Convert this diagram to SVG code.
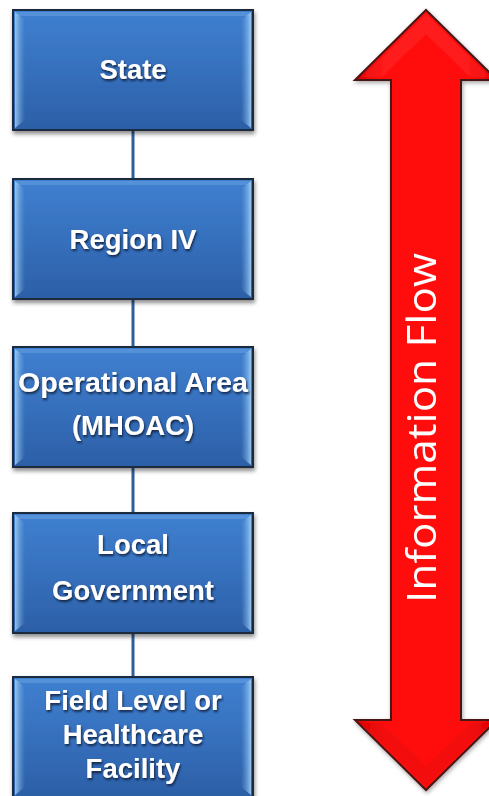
<svg xmlns="http://www.w3.org/2000/svg" width="489" height="796" viewBox="0 0 489 796">
  <defs>
    <linearGradient id="boxFill" x1="0" y1="0" x2="0" y2="1">
      <stop offset="0" stop-color="#3f80d0"/>
      <stop offset="0.5" stop-color="#3670bd"/>
      <stop offset="1" stop-color="#2c5fa6"/>
    </linearGradient>
    <linearGradient id="edgeL" x1="0" y1="0" x2="1" y2="0">
      <stop offset="0" stop-color="#9fcdf5" stop-opacity="0.9"/>
      <stop offset="1" stop-color="#6ea6e0" stop-opacity="0"/>
    </linearGradient>
    <linearGradient id="edgeR" x1="1" y1="0" x2="0" y2="0">
      <stop offset="0" stop-color="#9fcdf5" stop-opacity="0.9"/>
      <stop offset="1" stop-color="#6ea6e0" stop-opacity="0"/>
    </linearGradient>
    <linearGradient id="arrowFill" x1="0" y1="0" x2="1" y2="0">
      <stop offset="0" stop-color="#e00000"/>
      <stop offset="0.2" stop-color="#ff1010"/>
      <stop offset="0.8" stop-color="#ff1010"/>
      <stop offset="1" stop-color="#e00000"/>
    </linearGradient>
    <filter id="boxShadow" x="-10%" y="-10%" width="120%" height="125%">
      <feDropShadow dx="1" dy="3" stdDeviation="2" flood-color="#000" flood-opacity="0.45"/>
    </filter>
    <filter id="textShadow" x="-10%" y="-20%" width="120%" height="150%">
      <feDropShadow dx="1" dy="2" stdDeviation="1.2" flood-color="#0b1e3a" flood-opacity="0.9"/>
    </filter>
    <filter id="arrowShadow" x="-10%" y="-5%" width="120%" height="110%">
      <feDropShadow dx="1" dy="2" stdDeviation="2" flood-color="#000" flood-opacity="0.35"/>
    </filter>
    <g id="box">
      <rect x="0" y="0" width="240" height="120" fill="url(#boxFill)" stroke="#1c2a3c" stroke-width="2"/>
      <rect x="2" y="2" width="236" height="4" fill="#6aa3e2" opacity="0.5"/>
      <polygon points="2,2 12,10 12,110 2,118" fill="url(#edgeL)"/>
      <polygon points="238,2 228,10 228,110 238,118" fill="url(#edgeR)"/>
    </g>
  </defs>
  <style>
    .label { font-family: "Liberation Sans", Arial, sans-serif; font-weight: bold; font-size: 27.5px; fill: #ffffff; text-anchor: middle; filter: url(#textShadow); }
    .link { stroke: #2f5f9a; stroke-width: 3; fill: none; }
    .flow { font-family: "Open Sans", "Liberation Sans", sans-serif; font-size: 40px; fill: #ffffff; text-anchor: middle; }
  </style>
  <rect width="489" height="796" fill="#ffffff"/>

  <!-- connectors between the levels -->
  <g id="connectors">
    <line class="link" x1="133" y1="130" x2="133" y2="178"/>
    <line class="link" x1="133" y1="300" x2="133" y2="347"/>
    <line class="link" x1="133" y1="467" x2="133" y2="513"/>
    <line class="link" x1="133" y1="633" x2="133" y2="677"/>
  </g>

  <g id="node-state" filter="url(#boxShadow)">
    <use href="#box" x="13" y="10"/>
  </g>
  <text class="label" x="133" y="79">State</text>

  <g id="node-region" filter="url(#boxShadow)">
    <use href="#box" x="13" y="179"/>
  </g>
  <text class="label" x="133" y="249">Region IV</text>

  <g id="node-operational" filter="url(#boxShadow)">
    <use href="#box" x="13" y="347"/>
  </g>
  <text class="label" x="133" y="392" textLength="230" lengthAdjust="spacingAndGlyphs">Operational Area</text>
  <text class="label" x="133" y="435">(MHOAC)</text>

  <g id="node-local" filter="url(#boxShadow)">
    <use href="#box" x="13" y="513"/>
  </g>
  <text class="label" x="133" y="554">Local</text>
  <text class="label" x="133" y="600">Government</text>

  <g id="node-field" filter="url(#boxShadow)">
    <use href="#box" x="13" y="677"/>
  </g>
  <text class="label" x="133" y="710">Field Level or</text>
  <text class="label" x="133" y="744">Healthcare</text>
  <text class="label" x="133" y="778">Facility</text>

  <!-- double-headed information flow arrow -->
  <g id="flow-arrow" filter="url(#arrowShadow)">
    <polygon points="426,10 497,80 461,80 461,720 497,720 426,790 355,720 391,720 391,80 355,80" fill="url(#arrowFill)" stroke="#4a1414" stroke-width="2" stroke-linejoin="miter"/>
    <polygon points="426,14 490,77 470,77 426,34 382,77 362,77" fill="#ff4a4a" opacity="0.18"/>
    <polygon points="362,723 382,723 426,766 470,723 490,723 426,786" fill="#b00000" opacity="0.15"/>
    <text class="flow" transform="translate(436,428) rotate(-90)" textLength="350" lengthAdjust="spacingAndGlyphs">Information  Flow</text>
  </g>
</svg>
